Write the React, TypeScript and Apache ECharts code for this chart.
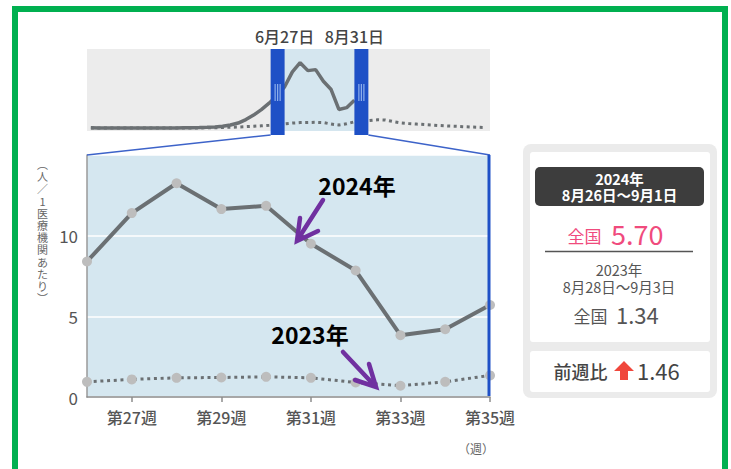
import React, { useEffect, useRef } from 'react';
import * as echarts from 'echarts';

// ---- data ----
const mainWeeks = ['26', '27', '28', '29', '30', '31', '32', '33', '34', '35'];
const values2024 = [8.4, 11.4, 13.25, 11.65, 11.85, 9.5, 7.84, 3.83, 4.2, 5.7];
const values2023 = [0.94, 1.09, 1.19, 1.21, 1.25, 1.19, 0.9, 0.7, 0.94, 1.34];

const overviewWeeks = [
  '1', '2', '3', '4', '5', '6', '7', '8', '9', '10', '11', '12', '13',
  '14', '15', '16', '17', '18', '19', '20', '21', '22', '23', '24', '25', '26',
  '27', '28', '29', '30', '31', '32', '33', '34', '35', '36', '37', '38', '39',
  '40', '41', '42', '43', '44', '45', '46', '47', '48', '49', '50', '51', '52',
];
// weeks 1-25
const early2024 = [0.15, 0.12, 0.1, 0.1, 0.1, 0.1, 0.1, 0.1, 0.1, 0.1, 0.12, 0.12, 0.14,
  0.16, 0.2, 0.25, 0.32, 0.45, 0.7, 1.1, 1.8, 2.7, 3.8, 5.1, 6.6];
const early2023 = [0.1, 0.1, 0.1, 0.1, 0.1, 0.1, 0.1, 0.1, 0.1, 0.1, 0.1, 0.1, 0.1,
  0.1, 0.12, 0.14, 0.16, 0.2, 0.25, 0.3, 0.38, 0.45, 0.55, 0.65, 0.8];
// weeks 36-52
const late2023 = [1.45, 1.6, 1.75, 1.7, 1.4, 1.15, 1.0, 0.9, 0.8, 0.7, 0.6, 0.5, 0.45,
  0.38, 0.3, 0.25, 0.2];

const overview2024 = [...early2024, ...values2024];
const overview2023 = [...early2023, ...values2023, ...late2023];

const yTicks = [0, 5, 10];
const startLabel = '6月27日';
const endLabel = '8月31日';

const FONT = '"Noto Sans CJK JP", "Noto Sans", sans-serif';
const BLUE = '#1e50c6';
const LINE = '#6b7073';
const DOT = '#bdbdbd';

export default function App() {
  const ref = useRef<HTMLDivElement>(null);

  useEffect(() => {
    if (!ref.current) return;
    const chart = echarts.init(ref.current, null, { renderer: 'svg' });
    const base: any = {
      animation: false,
      backgroundColor: '#ffffff',
      textStyle: { fontFamily: FONT },
      grid: [
        { left: 87, top: 49, width: 403, height: 82, show: true, backgroundColor: '#ececec', borderWidth: 0, containLabel: false, outerBoundsMode: 'none' },
        { left: 87, top: 155, width: 403, height: 242, show: true, backgroundColor: '#d5e7f0', borderWidth: 0, containLabel: false, outerBoundsMode: 'none' },
      ],
      xAxis: [
        { gridIndex: 0, type: 'category', data: overviewWeeks, boundaryGap: true, show: false },
        {
          gridIndex: 1, type: 'category', data: mainWeeks, boundaryGap: false,
          axisLine: { show: true, lineStyle: { color: '#8c8c8c', width: 1.5 } },
          axisTick: { show: true, interval: (i: number) => i % 2 === 1, length: 5, lineStyle: { color: '#8c8c8c', width: 1.5 } },
          axisLabel: {
            interval: (i: number) => i % 2 === 1, formatter: (v: string) => '第' + v + '週',
            color: '#555', fontSize: 16, fontWeight: 500, margin: 12, fontFamily: FONT,
          },
          splitLine: { show: false },
        },
      ],
      yAxis: [
        { gridIndex: 0, type: 'value', min: -0.5, max: 16, show: false },
        {
          gridIndex: 1, type: 'value', min: 0, max: 15, interval: 5,
          axisLine: { show: true, lineStyle: { color: '#9a9a9a', width: 1.5 } },
          axisTick: { show: false },
          axisLabel: {
            formatter: (v: number) => (yTicks.indexOf(v) >= 0 ? String(v) : ''),
            color: '#555', fontSize: 17, margin: 9, fontFamily: FONT,
          },
          splitLine: { show: true, lineStyle: { color: '#ffffff', width: 1.5 } },
        },
      ],
      series: [
        {
          type: 'line', xAxisIndex: 0, yAxisIndex: 0, data: overview2023, symbol: 'none', silent: true,
          lineStyle: { color: LINE, width: 3, type: [3, 3.5] }, z: 3,
        },
        {
          type: 'line', xAxisIndex: 0, yAxisIndex: 0, data: overview2024, symbol: 'none', silent: true,
          lineStyle: { color: LINE, width: 3.5 }, z: 3,
        },
        {
          type: 'line', xAxisIndex: 1, yAxisIndex: 1, data: values2023, symbol: 'circle', symbolSize: 10, silent: true,
          lineStyle: { color: LINE, width: 3, type: [3, 3.7] }, itemStyle: { color: DOT }, z: 3,
        },
        {
          type: 'line', xAxisIndex: 1, yAxisIndex: 1, data: values2024, symbol: 'circle', symbolSize: 10, silent: true,
          lineStyle: { color: LINE, width: 4 }, itemStyle: { color: DOT }, z: 3,
        },
      ],
    };
    chart.setOption(base);

    const wStart = overviewWeeks.indexOf(mainWeeks[0]);
    const wEnd = overviewWeeks.indexOf(mainWeeks[mainWeeks.length - 1]);
    const pA = chart.convertToPixel({ gridIndex: 0 } as any, [wStart, 16]) as number[];
    const pB = chart.convertToPixel({ gridIndex: 0 } as any, [wEnd, -0.5]) as number[];
    const oTop = pA[1];
    const oBot = pB[1];
    const wL = pA[0];
    const wR = pB[0];
    const mTL = chart.convertToPixel({ gridIndex: 1 } as any, [0, 15]) as number[];
    const mBR = chart.convertToPixel({ gridIndex: 1 } as any, [mainWeeks.length - 1, 0]) as number[];

    const hw = 14;
    const hBot = oBot + 4;
    const grip = (cx: number) => [-2.5, 0, 2.5].map((dx) => ({
      type: 'rect', z: 12, silent: true,
      shape: { x: cx + dx - 0.6, y: (oTop + hBot) / 2 - 8, width: 1.2, height: 17 },
      style: { fill: '#8fb0ec' },
    }));
    const txt = (text: string, x: number, y: number, fontSize: number, fill: string, align = 'center', fontWeight: any = 'normal', lineHeight?: number) => ({
      type: 'text', z: 20, silent: true, x, y,
      style: {
        text, fontSize, fontFamily: FONT, fontWeight, fill, align, textAlign: align,
        verticalAlign: 'middle', textVerticalAlign: 'middle', lineHeight: lineHeight || fontSize * 1.2,
      },
    });

    const yNameChars = ['︵', '人', '／', '1', '医', '療', '機', '関', 'あ', 'た', 'り', '︶'];
    const yNameTexts = yNameChars.map((c, i) => txt(c, 42.5, 164 + i * 12.2, 11, '#666', 'center', 'normal', 12));

    const graphic: any[] = [
      // overview window
      { type: 'rect', z: 1, silent: true, shape: { x: wL, y: oTop, width: wR - wL, height: oBot - oTop }, style: { fill: '#d5e6ef' } },
      // handles
      { type: 'rect', z: 10, silent: true, shape: { x: wL - hw, y: oTop, width: hw, height: hBot - oTop }, style: { fill: BLUE } },
      { type: 'rect', z: 10, silent: true, shape: { x: wR, y: oTop, width: hw, height: hBot - oTop }, style: { fill: BLUE } },
      ...grip(wL - hw / 2),
      ...grip(wR + hw / 2),
      // connectors
      { type: 'line', z: 10, silent: true, shape: { x1: wL - hw, y1: hBot, x2: mTL[0], y2: mTL[1] }, style: { stroke: '#3d63c9', lineWidth: 1.5 } },
      { type: 'line', z: 10, silent: true, shape: { x1: wR + hw, y1: hBot, x2: mBR[0], y2: mTL[1] }, style: { stroke: '#3d63c9', lineWidth: 1.5 } },
      // main right edge
      { type: 'line', z: 10, silent: true, shape: { x1: mBR[0] - 1, y1: mTL[1], x2: mBR[0] - 1, y2: mBR[1] - 1 }, style: { stroke: BLUE, lineWidth: 3 } },
      // date labels
      txt(startLabel, wL, 36, 16, '#444', 'center', 500),
      txt(endLabel, wR, 36, 16, '#444', 'center', 500),
      // y axis name (vertical)
      ...yNameTexts,
      txt('（週）', 476, 448, 12, '#666'),
      // annotations
      txt('2024年', 357, 185, 23, '#000', 'center', 'bold'),
      txt('2023年', 310, 334, 23, '#000', 'center', 'bold'),
      { type: 'line', z: 20, silent: true, shape: { x1: 323, y1: 200, x2: 298, y2: 239 }, style: { stroke: '#7030a0', lineWidth: 4.5, lineCap: 'round' } },
      { type: 'polyline', z: 20, silent: true, shape: { points: [[300, 218], [297, 241], [318, 231]] }, style: { stroke: '#7030a0', lineWidth: 4.5, fill: 'none', lineCap: 'round', lineJoin: 'miter' } },
      { type: 'line', z: 20, silent: true, shape: { x1: 343, y1: 352, x2: 374, y2: 385 }, style: { stroke: '#7030a0', lineWidth: 4.5, lineCap: 'round' } },
      { type: 'polyline', z: 20, silent: true, shape: { points: [[369, 364], [376, 387], [355, 380]] }, style: { stroke: '#7030a0', lineWidth: 4.5, fill: 'none', lineCap: 'round', lineJoin: 'miter' } },
      // right panel
      { type: 'rect', z: 15, silent: true, shape: { x: 523, y: 144, width: 194, height: 254, r: 8 }, style: { fill: '#ebebeb' } },
      { type: 'rect', z: 16, silent: true, shape: { x: 530, y: 152, width: 180, height: 190, r: 3 }, style: { fill: '#ffffff' } },
      { type: 'rect', z: 16, silent: true, shape: { x: 530, y: 351, width: 180, height: 41, r: 3 }, style: { fill: '#ffffff' } },
      { type: 'rect', z: 17, silent: true, shape: { x: 535, y: 167, width: 169, height: 39, r: 5 }, style: { fill: '#3d3d3d' } },
      txt('2024年', 619.5, 178, 14.5, '#ffffff', 'center', 'bold', 15),
      txt('8月26日～9月1日', 619.5, 194.5, 14.5, '#ffffff', 'center', 'bold', 15),
      txt('全国', 584.5, 235, 17, '#f04b7d'),
      txt('5.70', 611, 233, 27, '#f04b7d', 'left'),
      { type: 'line', z: 17, silent: true, shape: { x1: 545, y1: 251.5, x2: 693, y2: 251.5 }, style: { stroke: '#555', lineWidth: 1.5 } },
      txt('2023年', 619, 269.5, 14.5, '#555', 'center', 'normal', 15),
      txt('8月28日～9月3日', 619, 286, 14.5, '#555', 'center', 'normal', 15),
      txt('全国', 590.5, 315, 17, '#555'),
      txt('1.34', 616, 314, 22, '#555', 'left'),
      txt('前週比', 580.5, 371, 18, '#444', 'center', 500),
      { type: 'polygon', z: 18, silent: true, shape: { points: [[624, 361], [634, 371], [628, 371], [628, 380], [620, 380], [620, 371], [614, 371]] }, style: { fill: '#f0473c' } },
      txt('1.46', 637, 370, 22, '#444', 'left'),
      // green frame
      { type: 'rect', z: 30, silent: true, shape: { x: 15, y: 9, width: 710, height: 480 }, style: { fill: 'none', stroke: '#00b050', lineWidth: 6 } },
    ];
    chart.setOption({ graphic });

    return () => chart.dispose();
  }, []);

  return <div ref={ref} style={{ position: 'absolute', left: 0, top: 0, width: 731, height: 469 }} />;
}
